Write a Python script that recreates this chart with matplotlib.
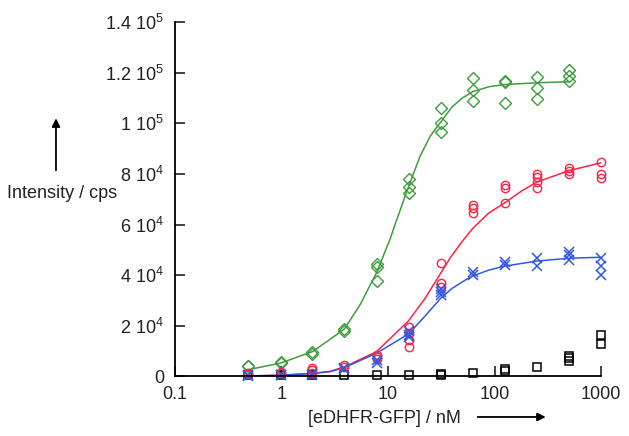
import matplotlib
matplotlib.use("Agg")
from matplotlib import pyplot as plt

plt.rcParams['font.family'] = ['Liberation Sans', 'DejaVu Sans']
plt.rcParams['mathtext.fontset'] = 'custom'
plt.rcParams['mathtext.rm'] = 'Liberation Sans'
plt.rcParams['mathtext.it'] = 'Liberation Sans'

# concentrations [nM], replicate readings (x 10^4 cps)
green_x = [0.49, 0.49, 0.98, 0.98, 1.95, 1.95, 3.9, 3.9,
           7.8, 7.8, 7.8, 15.6, 15.6, 15.6, 31.25, 31.25, 31.25,
           62.5, 62.5, 62.5, 125, 125, 125, 250, 250, 250, 500, 500, 500]
green_y = [0.43, 0.40, 0.58, 0.52, 0.98, 0.87, 1.88, 1.80,
           4.44, 4.34, 3.76, 7.8, 7.5, 7.26, 10.62, 10.0, 9.67,
           11.78, 11.32, 10.88, 11.67, 11.64, 10.79, 11.82, 11.38, 10.95, 12.12, 11.87, 11.67]

red_x = [0.49, 0.49, 0.98, 0.98, 1.95, 1.95, 1.95, 3.9, 3.9,
         7.8, 7.8, 7.8, 15.6, 15.6, 15.6, 15.6, 31.25, 31.25, 31.25,
         62.5, 62.5, 62.5, 125, 125, 125, 250, 250, 250, 250,
         500, 500, 500, 1000, 1000, 1000]
red_y = [0.12, 0.08, 0.19, 0.12, 0.35, 0.25, 0.15, 0.45, 0.38,
         0.85, 0.76, 0.68, 1.94, 1.71, 1.44, 1.18, 4.5, 3.68, 3.55,
         6.77, 6.64, 6.47, 7.56, 7.43, 6.86, 8.0, 7.87, 7.7, 7.43,
         8.22, 8.13, 7.99, 8.48, 8.0, 7.83]

blue_x = [0.49, 0.49, 0.98, 0.98, 1.95, 1.95, 3.9, 3.9, 7.8, 7.8,
          15.6, 15.6, 15.6, 31.25, 31.25, 31.25, 62.5, 62.5, 125, 125,
          250, 250, 500, 500, 500, 1000, 1000, 1000]
blue_y = [0.06, 0.03, 0.07, 0.04, 0.10, 0.05, 0.35, 0.28, 0.65, 0.55,
          1.8, 1.65, 1.55, 3.45, 3.35, 3.22, 4.14, 4.0, 4.54, 4.4,
          4.67, 4.36, 4.93, 4.8, 4.6, 4.67, 4.36, 4.0]

black_x = [0.49, 0.98, 1.95, 3.9, 7.8, 15.6, 31.25, 31.25, 62.5, 125, 125,
           250, 500, 500, 500, 1000, 1000]
black_y = [0.04, 0.04, 0.04, 0.04, 0.05, 0.06, 0.10, 0.05, 0.15, 0.30, 0.23,
           0.39, 0.82, 0.72, 0.62, 1.64, 1.27]

# fitted curves
green_fit_x = [0.49, 0.98, 1.95, 2.8, 3.9, 5.5, 7.8, 10.4, 12.1, 15.6, 20,
               25, 31.25, 40, 50, 62.5, 90, 125, 250, 500]
green_fit_y = [0.27, 0.53, 0.98, 1.44, 1.88, 2.85, 4.1, 5.4, 6.2, 7.5, 8.7,
               9.5, 10.05, 10.65, 11.0, 11.25, 11.45, 11.53, 11.6, 11.64]

red_fit_x = [0.49, 0.98, 1.95, 2.85, 3.9, 7.8, 15.6, 22, 31.25, 38.2, 49,
             62.5, 88, 125, 180, 250, 500, 1000]
red_fit_y = [0.02, 0.05, 0.12, 0.2, 0.38, 0.98, 2.2, 3.05, 4.08, 4.67, 5.3,
             5.85, 6.45, 6.86, 7.33, 7.68, 8.13, 8.44]

blue_fit_x = [0.49, 0.98, 1.95, 2.85, 3.9, 7.8, 15.6, 22, 31.25, 40, 54.8,
              62.5, 88, 125, 250, 500, 1000]
blue_fit_y = [0.02, 0.05, 0.12, 0.19, 0.35, 0.92, 1.68, 2.36, 3.09, 3.48, 3.84,
              3.97, 4.2, 4.36, 4.56, 4.67, 4.71]

y_ticks = [0, 2e4, 4e4, 6e4, 8e4, 1e5, 1.2e5, 1.4e5]
y_tick_labels = ['0', '2 10$^4$', '4 10$^4$', '6 10$^4$', '8 10$^4$',
                 '1 10$^5$', '1.2 10$^5$', '1.4 10$^5$']
x_ticks = [0.1, 1, 10, 100, 1000]
x_tick_labels = ['0.1', '1', '10', '100', '1000']

green = '#3c9e3c'
red = '#ff2244'
blue = '#3358e0'


def scale(vals):
    return [v * 1e4 for v in vals]


fig = plt.figure(figsize=(6.29, 4.36), dpi=100)
ax = fig.add_axes([0.2782, 0.1365, 0.6773, 0.813])

ax.plot(green_fit_x, scale(green_fit_y), color=green, lw=1.1)
ax.plot(red_fit_x, scale(red_fit_y), color=red, lw=1.1)
ax.plot(blue_fit_x, scale(blue_fit_y), color=blue, lw=1.1)

ax.plot(black_x, scale(black_y), 's', ms=5.5, mfc='none', mec='black', mew=1.1, clip_on=False)
ax.plot(green_x, scale(green_y), 'D', ms=6, mfc='none', mec=green, mew=1.0, clip_on=False)
ax.plot(red_x, scale(red_y), 'o', ms=6, mfc='none', mec=red, mew=1.0, clip_on=False)
ax.plot(blue_x, scale(blue_y), 'x', ms=6.5, color=blue, mew=1.1, clip_on=False)

ax.set_xscale('log')
ax.set_xlim(0.1, 1000)
ax.set_ylim(0, 1.4e5)
ax.set_xticks(x_ticks)
ax.set_xticklabels(x_tick_labels)
ax.set_yticks(y_ticks)
ax.set_yticklabels(y_tick_labels)
ax.minorticks_off()

for s in ['top', 'right']:
    ax.spines[s].set_visible(False)
for s in ['left', 'bottom']:
    ax.spines[s].set_linewidth(1.3)
ax.tick_params(direction='in', length=7, width=1.2, labelsize=13, colors='#222222')
ax.tick_params(axis='y', pad=8)
ax.tick_params(axis='x', pad=7)

fig.text(0.011, 0.557, 'Intensity / cps', fontsize=13, ha='left', va='center', color='#222222')
fig.text(0.49, 0.041, '[eDHFR-GFP] / nM', fontsize=13, ha='left', va='center', color='#222222')

fig.add_artist(matplotlib.patches.FancyArrowPatch(
    (0.089, 0.603), (0.089, 0.735), transform=fig.transFigure,
    arrowstyle='-|>', mutation_scale=12, lw=1.3, color='black'))
fig.add_artist(matplotlib.patches.FancyArrowPatch(
    (0.755, 0.0436), (0.872, 0.0436), transform=fig.transFigure,
    arrowstyle='-|>', mutation_scale=12, lw=1.3, color='black'))

fig.savefig('out.png', dpi=100)
